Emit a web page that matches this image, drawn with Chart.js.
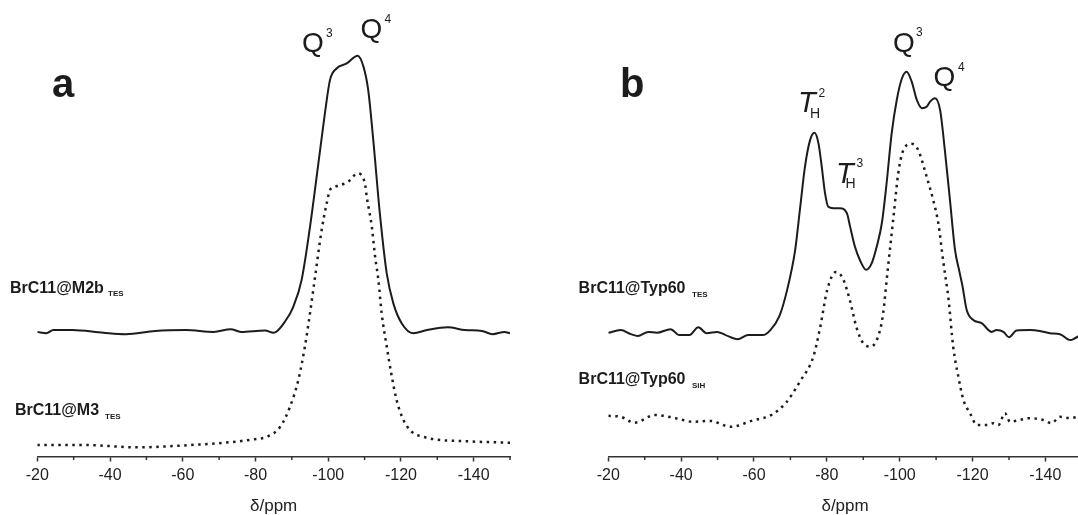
<!DOCTYPE html>
<html>
<head>
<meta charset="utf-8">
<script src="https://cdn.jsdelivr.net/npm/chart.js@4.4.1/dist/chart.umd.min.js"></script>
<style>
  html, body { margin: 0; padding: 0; background: #fff; overflow: hidden; width: 1078px; height: 515px; }
  canvas { position: absolute; top: 0; }
</style>
</head>
<body>
<canvas id="chart-a" width="539" height="515" style="left:0"></canvas>
<canvas id="chart-b" width="570" height="515" style="left:539px"></canvas>
<script>
// chemical shift (ppm) and intensity (a.u.)
const ppmM2b = [-20, -22.5, -24.4, -29.6, -38.2, -44.3, -52.4, -60.9, -68.5, -73.2, -76.0, -82.6, -85.0, -88.4, -90.4, -92.7, -95.0, -97.3, -99.1, -100.5, -102.3, -105.1, -108.1, -109.7, -111.0, -112.4, -114.2, -116.1, -117.9, -120.2, -123.4, -127.2, -132.9, -137.6, -142.3, -145.2, -148.5, -150];
const intM2b = [27.3, 27.0, 27.7, 27.7, 27.1, 26.8, 27.5, 27.7, 27.3, 27.9, 27.3, 27.6, 27.1, 29.9, 32.8, 38.7, 50.3, 64.2, 75.2, 82.5, 85.0, 86.1, 87.8, 85.4, 80.3, 69.3, 53.3, 40.1, 33.6, 29.2, 27.0, 27.7, 28.3, 27.7, 27.5, 26.8, 27.3, 27.0];

const ppmM3 = [-20, -33.4, -47.6, -61.8, -71.3, -79.8, -83.1, -86.8, -89.5, -91.8, -93.6, -95.0, -96.4, -98.2, -99.6, -100.5, -101.9, -104.2, -105.5, -108.1, -110.1, -110.6, -112.0, -112.9, -113.8, -114.7, -116.1, -117.5, -118.8, -120.7, -123.0, -126.2, -130.8, -136.0, -142.3, -150];
const intM3 = [2.5, 2.5, 2.0, 2.5, 3.0, 3.8, 4.3, 6.5, 10.9, 16.8, 24.1, 31.4, 39.4, 49.6, 55.5, 58.4, 59.1, 59.7, 60.2, 62.0, 59.8, 56.9, 50.3, 43.8, 38.7, 31.4, 24.1, 17.5, 12.4, 8.0, 5.4, 4.3, 3.6, 3.4, 3.2, 3.0];

const ppmTyp60Tes = [-20, -23.4, -26.2, -28.1, -31.0, -33.3, -37.1, -39.5, -42.3, -44.7, -47.0, -49.9, -52.2, -55.5, -58.4, -62.4, -64.5, -67.0, -69.1, -71.3, -72.6, -74.0, -75.4, -76.6, -77.7, -78.6, -79.5, -80.4, -81.8, -83.6, -85.5, -86.4, -87.7, -89.1, -90.8, -92.3, -93.7, -95.1, -96.4, -97.8, -99.2, -100.6, -101.9, -103.3, -104.7, -106.1, -107.4, -108.3, -109.7, -111.1, -112.4, -113.8, -115.2, -116.4, -117.2, -118.4, -120.2, -122.5, -125.3, -126.6, -128.5, -130.0, -132.1, -135.8, -138.5, -141.3, -144.0, -146.8, -148.1, -150];
const intTyp60Tes = [27.1, 27.7, 26.8, 26.4, 27.3, 27.1, 27.9, 26.6, 26.6, 28.3, 27.0, 27.3, 26.6, 25.7, 26.6, 26.6, 27.7, 30.8, 36.5, 45.2, 54.0, 63.5, 69.3, 70.9, 68.6, 63.5, 57.7, 54.7, 54.4, 54.4, 53.3, 50.3, 46.0, 43.0, 40.9, 42.3, 46.0, 51.1, 59.8, 70.8, 78.1, 82.8, 84.3, 82.1, 78.1, 76.3, 76.6, 77.7, 78.5, 75.9, 67.1, 56.2, 45.2, 40.5, 37.5, 32.1, 29.9, 29.2, 27.3, 27.7, 27.3, 26.1, 27.6, 27.7, 27.5, 27.0, 26.8, 25.5, 25.9, 26.8];

const ppmTyp60SiH = [-20, -23.4, -27.2, -32.8, -38.5, -43.3, -48.0, -53.6, -59.3, -65.0, -68.8, -72.6, -76.3, -78.2, -80.1, -82.5, -84.4, -86.3, -88.2, -90.0, -92.0, -93.9, -95.4, -96.6, -98.3, -99.6, -101.0, -103.3, -105.1, -107.4, -109.2, -110.6, -112.0, -113.4, -114.7, -116.1, -117.5, -119.3, -121.2, -123.9, -125.7, -127.1, -128.9, -130.3, -133.0, -135.8, -139.4, -141.7, -144.0, -146.8, -150];
const intTyp60SiH = [8.9, 8.7, 7.4, 9.1, 8.4, 7.6, 7.8, 6.5, 7.8, 9.2, 11.8, 16.4, 21.9, 28.4, 36.5, 40.4, 39.0, 34.3, 28.1, 24.8, 24.1, 25.9, 31.0, 40.0, 52.5, 62.0, 67.1, 68.5, 67.1, 61.3, 56.2, 51.1, 42.5, 34.5, 24.0, 17.5, 12.4, 9.5, 6.9, 6.9, 7.3, 6.9, 9.5, 7.6, 8.0, 8.4, 8.0, 7.3, 8.7, 8.4, 9.0];

const tickLabels = [-20, -40, -60, -80, -100, -120, -140];

const FONT = '"Liberation Sans", Arial, sans-serif';
const INK = '#1c1c1c';

function pts(xs, ys) {
    return xs.map((x, i) => ({ x: x, y: ys[i] }));
}

function solid(xs, ys) {
    return { data: pts(xs, ys), borderColor: INK, borderWidth: 2, cubicInterpolationMode: 'monotone', pointRadius: 0 };
}

function dotted(xs, ys) {
    return { data: pts(xs, ys), borderColor: INK, borderWidth: 2.5, borderDash: [2.5, 4.5], borderCapStyle: 'butt', cubicInterpolationMode: 'monotone', pointRadius: 0 };
}

// short minor ticks between the labelled ones
const minorTicks = {
    id: 'minorTicks',
    afterDraw(chart) {
        const sx = chart.scales.x;
        const y0 = chart.chartArea.bottom;
        const ctx = chart.ctx;
        ctx.save();
        ctx.strokeStyle = '#333';
        ctx.lineWidth = 1.5;
        sx.ticks.forEach(t => {
            if (tickLabels.indexOf(t.value) < 0) {
                const px = sx.getPixelForValue(t.value);
                ctx.beginPath();
                ctx.moveTo(px, y0);
                ctx.lineTo(px, y0 + 3.5);
                ctx.stroke();
            }
        });
        ctx.restore();
    }
};

function textPlugin(items, dx) {
    return {
        id: 'labels',
        afterDraw(chart) {
            const ctx = chart.ctx;
            ctx.save();
            ctx.fillStyle = INK;
            ctx.textAlign = 'left';
            ctx.textBaseline = 'alphabetic';
            items.forEach(it => {
                ctx.font = it[1] + ' ' + FONT;
                ctx.fillText(it[0], it[2] - dx, it[3]);
            });
            ctx.restore();
        }
    };
}

function makeOptions(padLeft, padRight) {
    return {
        responsive: false,
        animation: false,
        layout: { padding: { left: padLeft, right: padRight, top: 0, bottom: 0 } },
        plugins: { legend: { display: false }, tooltip: { enabled: false } },
        scales: {
            x: {
                type: 'linear',
                min: -150,
                max: -20,
                reverse: true,
                afterFit: s => { s.height = 58.5; },
                ticks: {
                    stepSize: 10,
                    autoSkip: false,
                    maxRotation: 0,
                    padding: 4,
                    color: '#222',
                    font: { family: FONT, size: 16 },
                    callback: v => tickLabels.indexOf(v) >= 0 ? String(v) : ''
                },
                grid: {
                    drawOnChartArea: false,
                    tickLength: 5,
                    tickWidth: 1.5,
                    tickColor: c => (c.tick && tickLabels.indexOf(c.tick.value) >= 0) ? '#333' : 'rgba(0,0,0,0)'
                },
                border: { display: true, color: '#333', width: 1.5 },
                title: { display: true, text: 'δ/ppm', color: '#222', font: { family: FONT, size: 17, lineHeight: 1 }, padding: 0 }
            },
            y: { display: false, min: 0, max: 100 }
        }
    };
}

const textsA = [
    ['a', 'bold 40px', 52, 97],
    ['Q', '28px', 302, 52], ['3', '12px', 326, 36.7],
    ['Q', '28px', 360.5, 37.5], ['4', '12px', 384.5, 23.3],
    ['BrC11@M2b', 'bold 16px', 10, 292.7], ['TES', 'bold 8px', 108, 296],
    ['BrC11@M3', 'bold 16px', 15, 415], ['TES', 'bold 8px', 105, 418.5]
];

const textsB = [
    ['b', 'bold 40px', 620, 97],
    ['T', 'italic 29px', 798, 111.5], ['H', '14px', 810, 118.3], ['2', '12px', 818.6, 96.7],
    ['T', 'italic 29px', 836, 183.3], ['H', '14px', 845.5, 188.3], ['3', '12px', 856.5, 166.7],
    ['Q', '28px', 893, 52], ['3', '12px', 916, 36],
    ['Q', '28px', 933.5, 86], ['4', '12px', 958, 70.7],
    ['BrC11@Typ60', 'bold 16px', 578.6, 293.3], ['TES', 'bold 8px', 692, 296.5],
    ['BrC11@Typ60', 'bold 16px', 578.6, 384.3], ['SiH', 'bold 8px', 692, 388]
];

new Chart(document.getElementById('chart-a').getContext('2d'), {
    type: 'line',
    data: { datasets: [solid(ppmM2b, intM2b), dotted(ppmM3, intM3)] },
    options: makeOptions(37.3, 29),
    plugins: [minorTicks, textPlugin(textsA, 0)]
});

new Chart(document.getElementById('chart-b').getContext('2d'), {
    type: 'line',
    data: { datasets: [solid(ppmTyp60Tes, intTyp60Tes), dotted(ppmTyp60SiH, intTyp60SiH)] },
    options: makeOptions(69.3, 27.2),
    plugins: [minorTicks, textPlugin(textsB, 539)]
});
</script>
</body>
</html>
